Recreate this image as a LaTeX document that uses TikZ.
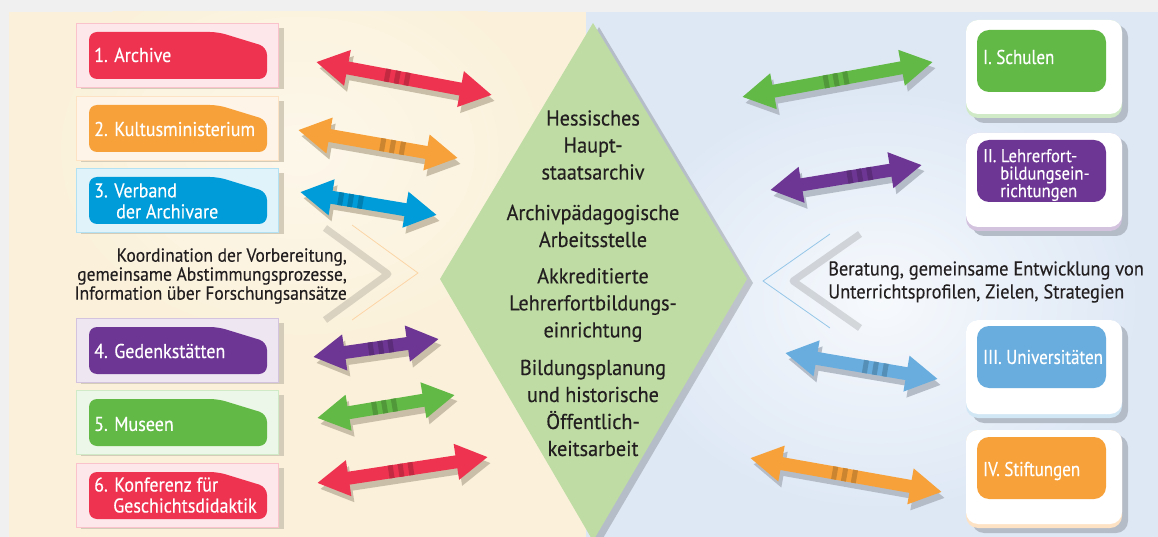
\documentclass[tikz,border=0pt]{standalone}
\usepackage{fontspec}
\setmainfont{PT Sans}
\newfontfamily\cf{PT Sans}[FakeStretch=0.9,FakeBold=0.35]
\newfontfamily\cfr{PT Sans}[FakeStretch=0.85,FakeBold=0.35]
\newfontfamily\cfm{PT Sans}[FakeStretch=0.94,FakeBold=0.4]
\newfontfamily\cfd{PT Sans}[FakeStretch=0.92,FakeBold=0.25]
\usetikzlibrary{arrows.meta,calc}
\definecolor{cRed}{HTML}{EE3350}
\definecolor{cOrange}{HTML}{F7A13A}
\definecolor{cBlue}{HTML}{009BD9}
\definecolor{cPurple}{HTML}{6E3694}
\definecolor{cGreen}{HTML}{62B946}
\definecolor{cLBlue}{HTML}{68ADDE}
\definecolor{cDia}{HTML}{BEDCA4}
\definecolor{cCream}{HTML}{FBF1DA}
\definecolor{cSky}{HTML}{DEE8F5}
\definecolor{cTop}{HTML}{F0F0F0}
\definecolor{cText}{HTML}{231F20}
\definecolor{shL}{HTML}{C9BFA8}
\definecolor{shR}{HTML}{B4BCC8}
\tikzset{
  dblarrow/.style={line width=13pt,
    {Triangle[length=32pt,width=34pt]}-{Triangle[length=32pt,width=34pt]}},
  boxtxt/.style={font=\cf\fontsize{20}{21}\selectfont, text=white, inner sep=0pt, align=left},
  rboxtxt/.style={font=\cfr\fontsize{20}{21}\selectfont, text=white, inner sep=0pt, align=left},
  midtxt/.style={font=\cfm\fontsize{21.5}{27}\selectfont, text=cText, inner sep=0pt, align=center},
  desctxt/.style={font=\cfd\fontsize{19}{19}\selectfont, text=cText, inner sep=0pt},
}
% #1 left, #2 right, #3 colour, #4 stripe position, #5 shadow colour
\newcommand\dblarr[5]{%
  \draw[dblarrow, draw=#5] ([shift={(3,6)}]#1) -- ([shift={(3,6)}]#2);
  \draw[dblarrow, draw=#3] (#1) -- (#2);
  \coordinate (tmpm) at ($(#1)!#4!(#2)$);
  \draw[line width=13pt, draw=#3!82!black, dash pattern=on 5pt off 5pt]
    ($(tmpm)!-14pt!(#2)$) -- ($(tmpm)!14pt!(#2)$);
}
% left paper box: #1 inner top y, #2 colour
\newcommand\leftbox[2]{%
  \fill[shL!80] (81,#1-4) rectangle (284,#1+57);
  \fill[#2!12!white, draw=#2!30!white, line width=0.8pt] (76,#1-9) rectangle (278,#1+55);
  \fill[#2, rounded corners=8pt] (89,#1) -- (218,#1) -- (267,#1+15) -- (267,#1+47) -- (89,#1+47) -- cycle;
}
% right key box: #1 outer top, #2 inner top, #3 colour
\newcommand\rightbox[3]{%
  \fill[shR, rounded corners=12pt] (972,#1+5) rectangle (1128,#1+103);
  \fill[#3!30!white, rounded corners=12pt] (966,#1) rectangle (1122,#1+98);
  \fill[white, rounded corners=12pt] (966,#1) rectangle (1122,#1+94);
  \fill[#3, rounded corners=12pt] (977,#2) rectangle (1106,#2+62);
}
\begin{document}
\begin{tikzpicture}[x=1pt,y=-1pt]
\useasboundingbox (0,0) rectangle (1158,537);
% backgrounds
\fill[cTop] (0,0) rectangle (1158,537);
\fill[cCream] (9,12) rectangle (586,537);
\fill[cSky] (586,12) rectangle (1158,537);
\begin{scope}
  \clip (586,12) rectangle (1158,537);
  \shade[inner color=white!75!cSky, outer color=cSky] (880,300) ellipse (260 and 210);
\end{scope}
\begin{scope}
  \clip (9,12) rectangle (586,537);
  \shade[inner color=white!45!cCream, outer color=cCream] (300,150) ellipse (260 and 200);
\end{scope}

% chevron shadows and lines
\draw[black, opacity=0.13, line width=7pt, line join=round] (325,228) -- (388,274) -- (325,320);
\draw[black, opacity=0.13, line width=7pt, line join=round] (860,234) -- (793,281) -- (860,328);
\draw[cOrange!45!white, line width=0.8pt] (352,225) -- (418,273) -- (352,320);
\draw[cLBlue!70!white, line width=0.8pt] (830,234) -- (763,281) -- (830,328);

% diamond
\fill[black, opacity=0.18] (599,27) -- (753,283) -- (599,545) -- (446,283) -- cycle;
\fill[cDia] (593,23) coordinate (dtop) -- (747,279) coordinate (dright) -- (593,541) coordinate (dbot) -- (440,279) coordinate (dleft) -- cycle;

\node[midtxt] (h1) at (593,145) {Hessisches\\Haupt-\\staatsarchiv};
\node[midtxt] (h2) at (593,226) {Archivpädagogische\\Arbeitsstelle};
\node[midtxt] (h3) at (593,305) {Akkreditierte\\Lehrerfortbildungs-\\einrichtung};
\node[midtxt] (h4) at (593,408) {Bildungsplanung\\und historische\\Öffentlich-\\keitsarbeit};

% left boxes
\leftbox{32}{cRed}
\leftbox{105}{cOrange}
\leftbox{177}{cBlue}
\leftbox{327}{cPurple}
\leftbox{399}{cGreen}
\leftbox{472}{cRed}
\node[boxtxt, anchor=west] (b1) at (94,55) {1. Archive};
\node[boxtxt, anchor=west] (b2) at (94,129) {2. Kultusministerium};
\node[boxtxt, anchor=west] (b3) at (94,201) {3. Verband\\\hspace*{22pt}der Archivare};
\node[boxtxt, anchor=west] (b4) at (94,351) {4. Gedenkstätten};
\node[boxtxt, anchor=west] (b5) at (94,424) {5. Museen};
\node[boxtxt, anchor=west] (b6) at (94,495) {6. Konferenz für\\\hspace*{19pt}Geschichtsdidaktik};

% left description
\node[desctxt, align=right, anchor=east] (kd) at (347,276)
  {Koordination der Vorbereitung,\\gemeinsame Abstimmungsprozesse,\\Information über Forschungsansätze};

% right boxes
\rightbox{20}{30}{cGreen}
\rightbox{133}{140}{cPurple}
\rightbox{320}{326}{cLBlue}
\rightbox{430}{437}{cOrange}
\node[rboxtxt, anchor=west] (r1) at (983,57) {I. Schulen};
\node[rboxtxt, anchor=west, font=\cf\fontsize{18.5}{17.5}\selectfont] (r2) at (983,175)
  {II. Lehrerfort-\\\hspace*{17pt}bildungsein-\\\hspace*{17pt}richtungen};
\node[rboxtxt, anchor=west] (r3) at (983,357) {III. Universitäten};
\node[rboxtxt, anchor=west] (r4) at (983,471) {IV. Stiftungen};

% right description
\node[desctxt, font=\cfd\fontsize{20}{23}\selectfont, align=left, anchor=west] (rd) at (828,282)
  {Beratung, gemeinsame Entwicklung von\\Unterrichtsprofilen, Zielen, Strategien};

% arrow end points
\coordinate (a1l) at (316,62);  \coordinate (a1r) at (492,95);
\coordinate (a2l) at (298,130); \coordinate (a2r) at (458,158);
\coordinate (a3l) at (300,192); \coordinate (a3r) at (437,215);
\coordinate (a4l) at (313,357); \coordinate (a4r) at (439,339);
\coordinate (a5l) at (317,418); \coordinate (a5r) at (455,395);
\coordinate (a6l) at (317,483); \coordinate (a6r) at (488,457);
\coordinate (c1l) at (742,97);  \coordinate (c1r) at (933,62);
\coordinate (c2l) at (770,190); \coordinate (c2r) at (922,165);
\coordinate (c3l) at (785,353); \coordinate (c3r) at (938,379);
\coordinate (c4l) at (750,458); \coordinate (c4r) at (942,492);

\dblarr{a1l}{a1r}{cRed}{0.47}{shL}
\dblarr{a2l}{a2r}{cOrange}{0.6}{shL}
\dblarr{a3l}{a3r}{cBlue}{0.38}{shL}
\dblarr{a4l}{a4r}{cPurple}{0.55}{shL}
\dblarr{a5l}{a5r}{cGreen}{0.5}{shL}
\dblarr{a6l}{a6r}{cRed}{0.5}{shL}
\dblarr{c1l}{c1r}{cGreen}{0.5}{shR}
\dblarr{c2l}{c2r}{cPurple}{0.6}{shR}
\dblarr{c3l}{c3r}{cLBlue}{0.6}{shR}
\dblarr{c4l}{c4r}{cOrange}{0.5}{shR}
\end{tikzpicture}
\end{document}
